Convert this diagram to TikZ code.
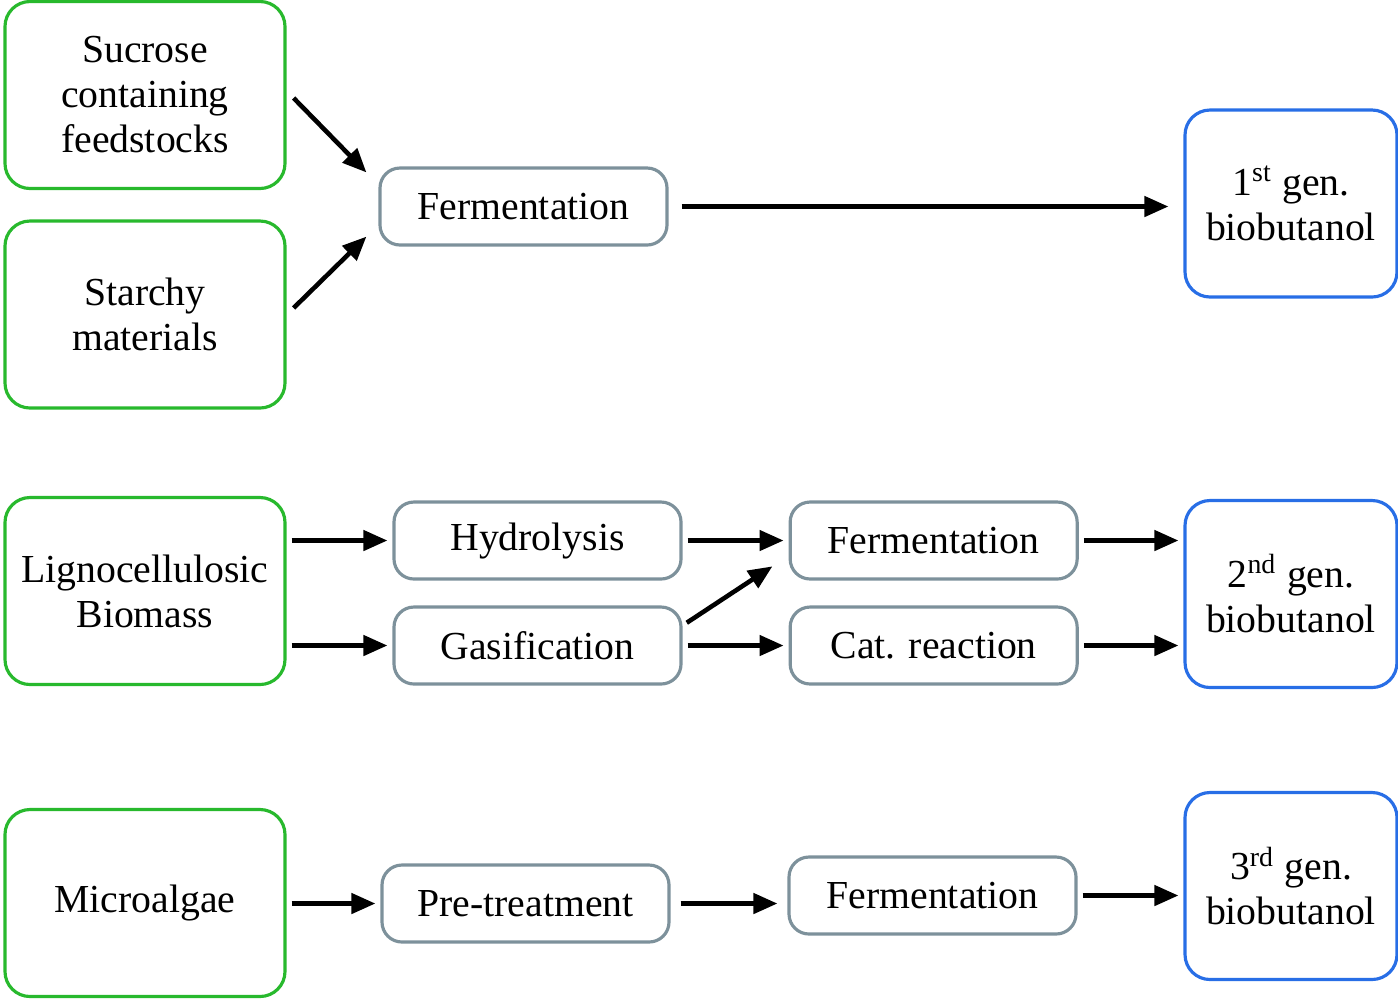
\documentclass[tikz,border=0pt]{standalone}
\usepackage{fontspec}
\setmainfont{Liberation Serif}
\usepackage{tikz}
\usetikzlibrary{positioning,arrows.meta}
\definecolor{srcgreen}{RGB}{40,185,45}
\definecolor{prodblue}{RGB}{40,110,230}
\definecolor{procgray}{RGB}{125,145,155}

\begin{document}
\begin{tikzpicture}[>={Triangle[length=2.4mm,width=2mm]},
  every node/.style={align=center, inner sep=1pt, font=\fontsize{11.3}{12.8}\selectfont},
  src/.style={draw=srcgreen, line width=0.9pt, rounded corners=2.5mm, minimum width=2.8cm, minimum height=1.87cm},
  proc/.style={draw=procgray, line width=0.9pt, rounded corners=2mm, minimum width=2.87cm, minimum height=0.77cm},
  prod/.style={draw=prodblue, line width=0.9pt, rounded corners=2.5mm, minimum width=2.12cm, minimum height=1.87cm},
  flow/.style={->, line width=1.3pt, shorten <=0.5mm, shorten >=0.5mm}]
  \useasboundingbox (0,0) rectangle (13.98,-9.98);
  % first generation
  \node[src] (sucrose) at (1.45,-0.95) {Sucrose\\containing\\feedstocks};
  \node[src] (starchy) at (1.45,-3.145) {Starchy\\materials};
  \node[proc] (ferm1) at (5.235,-2.065) {Fermentation};
  \node[prod] (gen1) at (12.91,-2.035) {1\textsuperscript{st} gen.\\biobutanol};
  % second generation
  \node[src] (ligno) at (1.45,-5.91) {Lignocellulosic\\Biomass};
  \node[proc] (hydro) at (5.375,-5.405) {Hydrolysis};
  \node[proc] (gasif) at (5.375,-6.455) {Gasification};
  \node[proc, right=1.06cm of hydro] (ferm2) {Fermentation};
  \node[proc, right=1.06cm of gasif] (catreac) {Cat. reaction};
  \node[prod] (gen2) at (12.91,-5.94) {2\textsuperscript{nd} gen.\\biobutanol};
  % third generation
  \node[src] (micro) at (1.45,-9.03) {Microalgae};
  \node[proc] (pretreat) at (5.255,-9.035) {Pre-treatment};
  \node[proc] (ferm3) at (9.325,-8.955) {Fermentation};
  \node[prod] (gen3) at (12.91,-8.86) {3\textsuperscript{rd} gen.\\biobutanol};
  \draw[flow, shorten <=0pt, shorten >=0pt] ([shift={(0.07,-0.03)}]sucrose.east) -- ([shift={(-0.12,-0.06)}]ferm1.north west);
  \draw[flow, shorten <=0pt, shorten >=0pt] ([shift={(0.07,0.065)}]starchy.east) -- ([shift={(-0.12,0.10)}]ferm1.south west);
  \draw[flow, shorten <=1.3mm, shorten >=1.5mm] (ferm1.east) -- (ferm1.east -| gen1.west);
  \draw[flow] (ligno.east |- hydro) -- (hydro);
  \draw[flow] (ligno.east |- gasif) -- (gasif);
  \draw[flow] (hydro) -- (ferm2);
  \draw[flow] ([yshift=0.2cm]gasif.east) -- ([shift={(-0.12,0.17)}]ferm2.south west);
  \draw[flow] (gasif) -- (catreac);
  \draw[flow] (ferm2.east) -- (ferm2.east -| gen2.west);
  \draw[flow] (catreac.east) -- (catreac.east -| gen2.west);
  \draw[flow] (micro.east |- pretreat) -- (pretreat);
  \draw[flow, shorten <=1mm, shorten >=1mm] (pretreat.east) -- (pretreat.east -| ferm3.west);
  \draw[flow] (ferm3.east) -- (ferm3.east -| gen3.west);
\end{tikzpicture}
\end{document}
